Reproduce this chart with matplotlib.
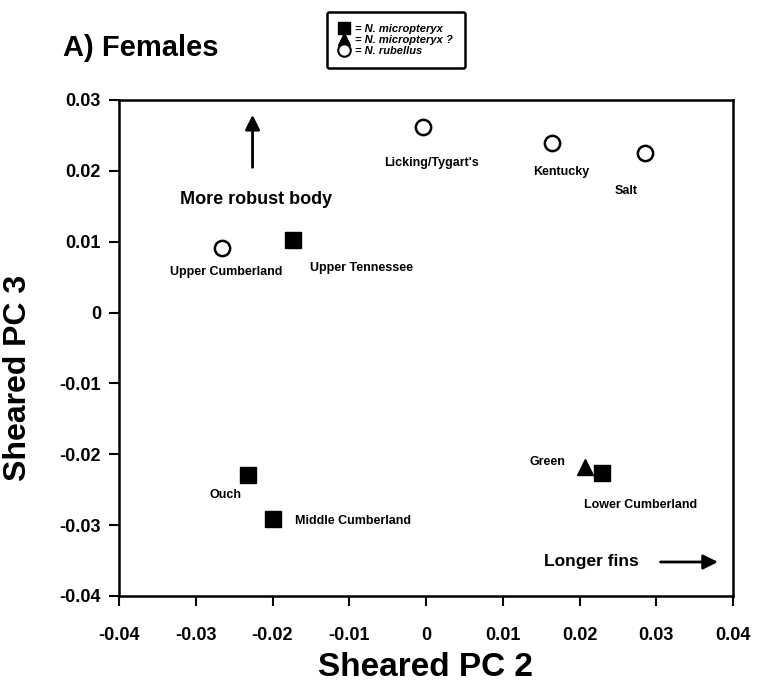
import matplotlib
matplotlib.use("Agg")
import matplotlib.pyplot as plt
from matplotlib.lines import Line2D

plt.rcParams['font.family'] = ['Liberation Sans', 'DejaVu Sans']

# populations, sheared PC scores, species group
sites = ["Licking/Tygart's", "Kentucky", "Salt", "Upper Cumberland",
         "Upper Tennessee", "Ouch", "Middle Cumberland", "Green",
         "Lower Cumberland"]
pc2 = [-0.0004, 0.0164, 0.0285, -0.0266, -0.0173, -0.0232, -0.0199, 0.0207, 0.0229]
pc3 = [0.0262, 0.0239, 0.0225, 0.0091, 0.0102, -0.0229, -0.0291, -0.0218, -0.0226]
group = ["rub", "rub", "rub", "rub", "mic", "mic", "mic", "mic?", "mic"]

# label offsets in pixels (dx, dy)
offsets = [(9, -36), (9, -29), (-19, -38), (4, -24), (68, -28),
           (-22, -20), (80, -2), (-37, 5), (39, -32)]

ticks = [-0.04, -0.03, -0.02, -0.01, 0, 0.01, 0.02, 0.03, 0.04]
yticks = [-0.04, -0.03, -0.02, -0.01, 0, 0.01, 0.02, 0.03]

def fmt(v):
    return "0" if v == 0 else ("%.2f" % v)

style = {
    "mic": dict(marker="s", color="black", markersize=11),
    "mic?": dict(marker="^", color="black", markersize=12),
    "rub": dict(marker="o", markerfacecolor="white", markeredgecolor="black",
                markersize=11, markeredgewidth=1.8),
}

fig = plt.figure(figsize=(7.57, 6.83), dpi=100)
ax = fig.add_axes([119/757, 1-596/683, 614/757, 496/683])

for x, y, g in zip(pc2, pc3, group):
    ax.plot([x], [y], linestyle="none", zorder=3, **style[g])

for name, x, y, (dx, dy) in zip(sites, pc2, pc3, offsets):
    ax.annotate(name, (x, y), xytext=(dx, dy), textcoords="offset pixels",
                ha="center", va="center", fontsize=9, fontweight="bold")

# direction arrows
ax.annotate("", xy=(-0.0226, 0.0283), xytext=(-0.0226, 0.0201),
            arrowprops=dict(arrowstyle="-|>", lw=2, color="black", mutation_scale=22))
ax.text(-0.0221, 0.0159, "More robust body", ha="center", va="center",
        fontsize=13, fontweight="bold")
ax.annotate("", xy=(0.0384, -0.0352), xytext=(0.0302, -0.0352),
            arrowprops=dict(arrowstyle="-|>", lw=2, color="black", mutation_scale=22))
ax.text(0.0215, -0.0352, "Longer fins", ha="center", va="center",
        fontsize=12.5, fontweight="bold")

ax.set_xlim(-0.04, 0.04)
ax.set_ylim(-0.04, 0.03)
ax.set_xticks(ticks)
ax.set_xticklabels([fmt(t) for t in ticks])
ax.set_yticks(yticks)
ax.set_yticklabels([fmt(t) for t in yticks])
ax.tick_params(direction="out", length=7, width=1.5, labelsize=13, pad=6)
ax.tick_params(axis="x", pad=15)
for lab in ax.get_xticklabels() + ax.get_yticklabels():
    lab.set_fontweight("bold")
for sp in ax.spines.values():
    sp.set_linewidth(1.8)

ax.set_xlabel("Sheared PC 2", fontsize=24, fontweight="bold", labelpad=6)
ax.set_ylabel("Sheared PC 3", fontsize=23, fontweight="bold")
ax.yaxis.set_label_coords(-0.14, 0.44)

fig.text(63/757, 1-48/683, "A) Females", ha="left", va="center",
         fontsize=21, fontweight="bold")

handles = [Line2D([], [], linestyle="none", marker="s", color="black", markersize=9),
           Line2D([], [], linestyle="none", marker="^", color="black", markersize=9),
           Line2D([], [], linestyle="none", marker="o", markerfacecolor="white",
                  markeredgecolor="black", markersize=9, markeredgewidth=1.5)]
labels = ["= N. micropteryx", "= N. micropteryx ?", "= N. rubellus"]
leg = fig.legend(handles, labels, loc="center", bbox_to_anchor=(396/757, 1-40/683),
                 frameon=True, fancybox=True, edgecolor="black", framealpha=1,
                 handlelength=1.0, handletextpad=0.5, labelspacing=0.1,
                 borderpad=1.1, borderaxespad=0,
                 prop=dict(size=8, weight="bold", style="italic"))
leg.get_frame().set_linewidth(1.8)

fig.savefig("out.png", dpi=100)
